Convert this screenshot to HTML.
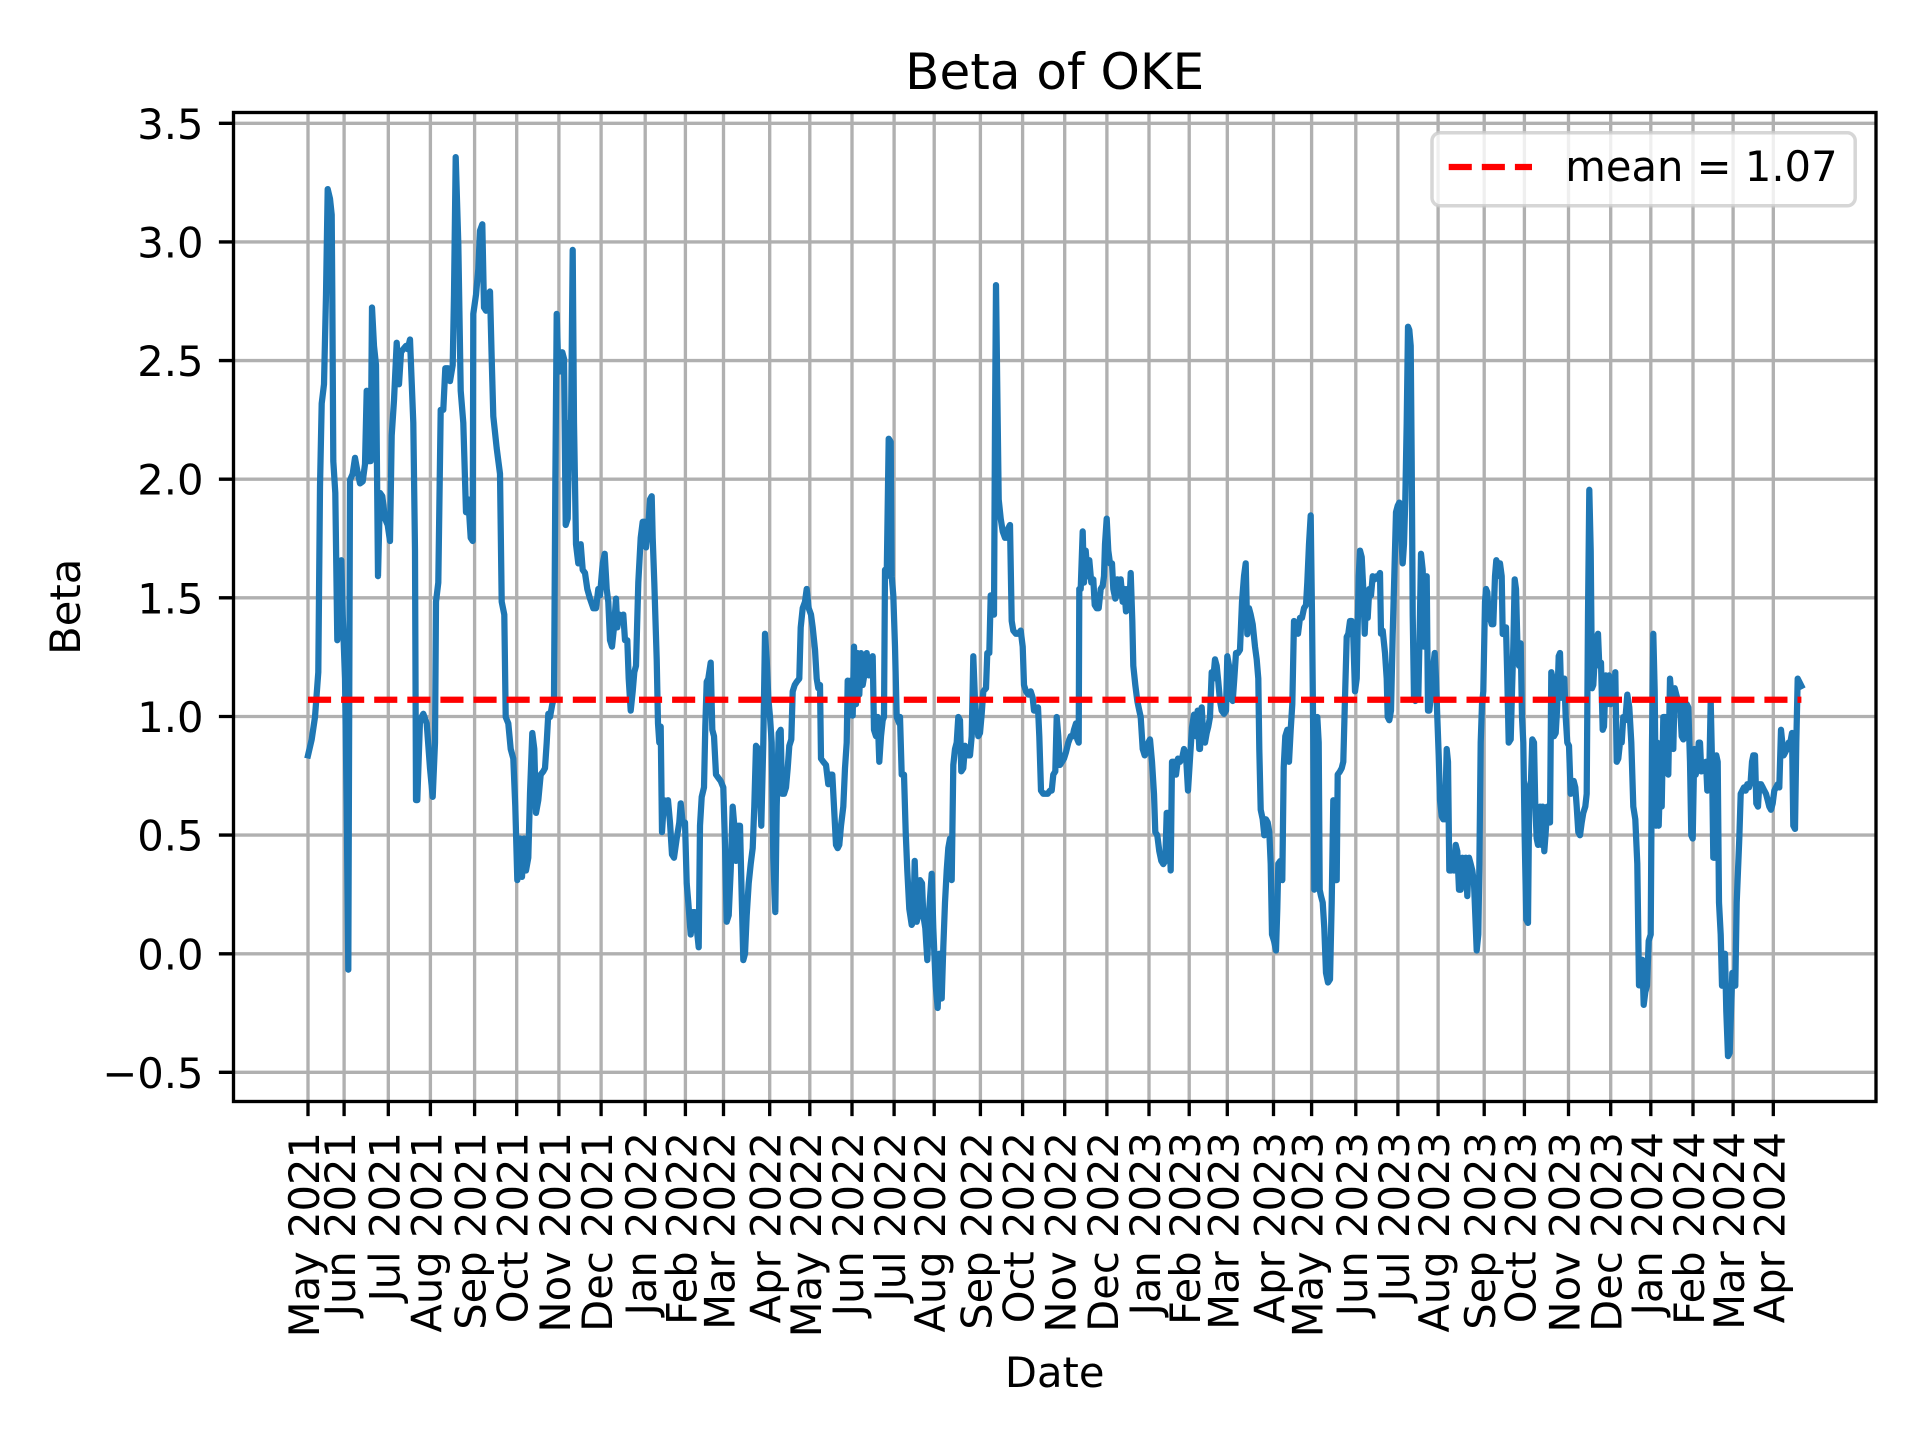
<!DOCTYPE html>
<html><head><meta charset="utf-8"><style>
html,body{margin:0;padding:0;background:#fff;}
svg{display:block;}
text{font-family:"DejaVu Sans","Liberation Sans",sans-serif;fill:#000;}
</style></head><body>
<svg width="1920" height="1440" viewBox="0 0 1920 1440" xmlns="http://www.w3.org/2000/svg">
<rect x="0" y="0" width="1920" height="1440" fill="#fff"/>
<g stroke="#b0b0b0" stroke-width="3.33" fill="none">
<path d="M308,112.5V1101.5M344.1,112.5V1101.5M388.3,112.5V1101.5M430.4,112.5V1101.5M474.6,112.5V1101.5M516.7,112.5V1101.5M558.9,112.5V1101.5M601.1,112.5V1101.5M645.2,112.5V1101.5M685.4,112.5V1101.5M723.5,112.5V1101.5M769.7,112.5V1101.5M809.8,112.5V1101.5M852,112.5V1101.5M894.1,112.5V1101.5M934.2,112.5V1101.5M980.4,112.5V1101.5M1022.6,112.5V1101.5M1064.7,112.5V1101.5M1106.9,112.5V1101.5M1149,112.5V1101.5M1189.2,112.5V1101.5M1227.3,112.5V1101.5M1273.5,112.5V1101.5M1311.6,112.5V1101.5M1355.8,112.5V1101.5M1397.9,112.5V1101.5M1438.1,112.5V1101.5M1484.2,112.5V1101.5M1524.4,112.5V1101.5M1568.5,112.5V1101.5M1610.7,112.5V1101.5M1650.8,112.5V1101.5M1693,112.5V1101.5M1733.1,112.5V1101.5M1773.3,112.5V1101.5"/>
<path d="M233.5,123.3H1876M233.5,241.9H1876M233.5,360.6H1876M233.5,479.2H1876M233.5,597.8H1876M233.5,716.5H1876M233.5,835.1H1876M233.5,953.8H1876M233.5,1072.3H1876"/>
</g>
<g stroke="#000" stroke-width="3.33" fill="none">
<path d="M308,1101.5v14.6M344.1,1101.5v14.6M388.3,1101.5v14.6M430.4,1101.5v14.6M474.6,1101.5v14.6M516.7,1101.5v14.6M558.9,1101.5v14.6M601.1,1101.5v14.6M645.2,1101.5v14.6M685.4,1101.5v14.6M723.5,1101.5v14.6M769.7,1101.5v14.6M809.8,1101.5v14.6M852,1101.5v14.6M894.1,1101.5v14.6M934.2,1101.5v14.6M980.4,1101.5v14.6M1022.6,1101.5v14.6M1064.7,1101.5v14.6M1106.9,1101.5v14.6M1149,1101.5v14.6M1189.2,1101.5v14.6M1227.3,1101.5v14.6M1273.5,1101.5v14.6M1311.6,1101.5v14.6M1355.8,1101.5v14.6M1397.9,1101.5v14.6M1438.1,1101.5v14.6M1484.2,1101.5v14.6M1524.4,1101.5v14.6M1568.5,1101.5v14.6M1610.7,1101.5v14.6M1650.8,1101.5v14.6M1693,1101.5v14.6M1733.1,1101.5v14.6M1773.3,1101.5v14.6"/>
<path d="M218.9,123.3h14.6M218.9,241.9h14.6M218.9,360.6h14.6M218.9,479.2h14.6M218.9,597.8h14.6M218.9,716.5h14.6M218.9,835.1h14.6M218.9,953.8h14.6M218.9,1072.3h14.6"/>
</g>
<polyline fill="none" stroke="#1f77b4" stroke-width="6.25" stroke-linejoin="round" stroke-linecap="square" points="
308,755.4 311.7,739.4 315,717 318.3,672.2 320,486.6 321.7,403.5 324,384.3 326,294.7 327.7,189.1 330,198.7 331.7,214.7 332.3,294.7 333.3,461.1 335.3,493 337.3,640.2 339.3,601.8 341.3,560.2 342.7,614.6 345,678.6 346.7,806.6 348.3,969.7 350,480.2 352.7,473.8 355,457.9 357.3,470.6 360,483.4 362.7,481.5 365,464.2 366.7,390.7 368.3,461.1 370.7,461.1 372,307.5 374,345.9 376,365.1 378,576.2 380,493 382.3,496.2 385,518.6 387.7,525 390,541 391.7,435.5 394,400.3 396.7,342.7 399,384.3 401,352.3 403.3,349.1 406,345.9 407.7,349.1 410,339.5 413.3,422.7 415,550.6 416,800.1 417.3,800.1 420,720.2 423.3,713.8 426.7,723.4 430,768.2 432.7,796.9 435,742.6 436,601.8 438.3,582.6 440.7,409.9 443.3,409.9 445.3,368.3 447.7,368.3 450,381.1 452.7,365.1 454,294.7 455.7,157.1 458.3,243.5 460.7,390.7 463.3,422.7 466,512.2 468.3,499.4 470.7,537.8 472.7,541 473.3,313.9 476,294.7 478.3,269.1 480,230.7 482.3,224.3 484,307.5 486,310.7 487.7,294.7 490,291.5 491.7,358.7 493.3,416.3 496.7,448.3 500,473.8 501.7,601.8 504.3,614.6 505.7,717 508.3,723.4 510.7,749 513.3,758.6 515.3,806.6 517.3,880.1 520,838.5 522,876.9 524,838.5 526,870.5 528.3,857.7 530,793.7 532.3,733 534.3,749 536,812.9 538.3,800.2 540.7,774.6 543.3,771.4 545,768.2 546.7,742.6 548.3,713.8 550,717 552.3,704.2 554,697.8 555.3,486.6 556.7,313.9 558.3,368.3 560,371.5 562.3,352.3 564,358.7 565.7,525 567.7,518.6 569.3,422.7 571,429.1 572.7,249.9 574,422.7 576,544.2 578.3,563.4 580.7,544.2 582.7,569.8 585,573 587.3,589 590,598.6 593.3,608.2 596,608.2 598.3,589
600,595.4 602.7,563.4 604.7,553.8 606.7,589 608.3,601.8 610,640.2 612,646.6 614,627.4 616,598.6 617.3,627.4 619.3,614.6 621.7,617.8 623.3,614.6 625,640.2 627.3,640.2 628.7,678.6 630.7,710.6 632.7,691.4 634.3,672.2 636,665.8 638.3,582.6 640.7,537.8 642.7,521.8 644.7,521.8 646,547.4 648.3,525 650,499.4 651.7,496.2 652.7,537.8 654.3,582.6 656.7,659.4 658,723.4 659.3,742.6 660.7,726.6 662,832.1 664,800.2 666,806.6 668,800.2 670,822.5 672,854.5 674,857.7 676.7,838.5 679.3,822.5 680.7,803.4 682.7,822.5 685,822.5 686.7,883.3 688.3,902.5 690.7,934.5 692.7,912.1 695,912.1 696.7,928.1 698.7,947.3 700,825.7 701.7,797 704,787.4 705.3,726.6 706.7,681.8 708.3,678.6 710.7,662.6 712.3,729.8 714,736.2 716,774.6 718.3,777.8 720.7,781 723.3,787.4 725,844.9 726.7,921.7 728.7,915.3 730.7,870.5 732.7,806.6 734.3,825.7 736,860.9 738,825.7 740,825.7 741.7,896.1 743.3,960.1 745,953.7 746.7,915.3 748.7,883.3 750.7,864.1 752.7,848.1 754.3,806.6 756,745.8 758.3,749 760,793.8 761.3,825.7 763.3,742.6 765,633.8 766.7,659.4 768.3,697.8 770,717 771.7,742.6 773.3,857.7 775.3,912.1 776.7,806.6 778.7,733 780.7,729.8 782,793.8 784,793.8 786,787.4 787.7,768.2 789.3,745.8 791.3,739.4 792.7,691.4 794.7,685 796.7,681.8 799.3,678.6 800.7,627.4 802.7,608.2 805,601.8 806.7,589 808.7,608.2 811,614.6 812.7,627.4 815,649.6 816.7,678.6 818.3,688.2 820,685 821,758.6 823.3,761.8 826,765 828.3,784.2 830.7,774.6 832.3,774.6 834,806.6 836,844.9 837.7,848.1 839.3,844.9 841,825.7 843.3,806.6 845,768.2 846.7,742.6 847.7,680.6 849.3,715.6 850.7,680.6 852.7,715.6 854,646.6 856,704.2 857.7,653.1 859.3,694.6 861,653.1 862.7,685 864.3,675.4 866.7,653.1 868.7,675.4 870.7,659.4 872.7,656.2 874,729.8 876,736.2 877.7,717 879.3,761.8 881,736.2 882.7,720.2 884,717 885,569.8 886.7,576.2 888.7,438.7 890.7,441.9 891.7,576.2 893.3,595.4 895,646.6 896.7,717 899.3,723.4
900,717 901.7,774.6 904,774.6 905.7,832.1 907.3,870.5 909.3,908.9 911.7,924.9 913.3,921.7 914.7,860.9 916.7,921.7 918.3,915.3 920,880.1 922,883.3 923.3,915.3 925.3,928.1 927.3,960.1 929.3,908.9 931.7,873.7 933.3,928.1 935.7,985.7 937.7,1008 939.3,953.7 941.7,998.5 943.3,947.3 945,902.5 946.7,870.5 948.3,848.1 950,838.5 951.7,880.1 953.3,765 955,749 956.7,742.6 958.3,717 960,720.2 961.3,771.4 963.3,768.2 965,745.8 966.7,749 968.3,755.4 970,755.4 971.7,736.2 973.3,656.2 975,701 976.7,723.4 978.3,736.2 980,733 981.7,713.8 983.3,691.4 986,688.2 987.3,653 989.3,653 990.7,595.4 992.7,595.4 994,614.6 995,422.7 996,285.1 997.3,390.7 998.7,499.4 1000.7,518.6 1002.7,531.4 1005,537.8 1006.7,537.8 1008.3,528.2 1010,525 1011.7,621 1013.3,630.6 1016,633.8 1018.3,633.8 1020.7,630.6 1022.7,646.6 1024,685 1026,691.4 1028.3,694.6 1030.7,691.4 1032.7,697.8 1034,710.6 1036,710.6 1038,707.4 1039.3,736.2 1041,790.6 1043.3,793.8 1045.7,793.8 1047.7,793.8 1050,790.6 1051.7,790.6 1053.3,774.6 1055.3,771.4 1056.7,717 1058.3,736.2 1060,765 1062,761.8 1064,758.6 1066,752.2 1068.3,742.6 1070.7,736.2 1072.7,736.2 1074,729.8 1076,723.4 1077.3,739.4 1078.7,742.6 1079.3,589 1080.7,589 1082.7,531.4 1084,582.6 1085.7,550.6 1087.7,576.2 1089.3,560.2 1091.3,582.6 1093.3,579.4 1094.7,605 1096.7,608.2 1098.7,608.2 1100.7,589 1102.7,585.8 1104,576.2 1105,544.2 1106.7,518.6 1108.3,550.6 1110,563.4 1112,563.4 1113.3,589 1115.3,598.6 1117.3,579.4 1119,595.4 1120.7,579.4 1122.7,601.8 1124.3,589 1126,611.4 1127.3,589 1129.3,608.2 1130.7,573 1132.3,621 1133.3,665.8 1135.3,685 1137.3,701 1139.3,710.6 1140.7,717 1142.7,749 1144.7,755.4 1146.7,752.2 1148.3,742.6 1150,739.4 1152,761.8 1154,793.8 1155.3,832.1 1157.3,835.3 1159.3,851.3 1161.3,860.9 1163.3,864.1 1165.3,860.9 1166.7,812.9 1168.7,812.9 1170.7,870.5 1172,761.8 1174,761.8 1176,774.6 1178,758.6 1180,761.8 1182,758.6 1184,749 1186,755.4 1188,790.6 1190,758.6 1192,727.4 1194,714.6 1196,736.2 1197.7,710.6 1199.3,749
1200,749 1201.7,707.4 1203.3,736.2 1205,742.6 1206.7,733 1208.3,726.6 1210,717 1211.7,672.2 1213.3,678.6 1215,659.4 1216.7,665.8 1218.3,681.8 1220,701 1221.7,710.6 1224,713.8 1226,710.6 1227.3,656.2 1229,665.8 1230.7,697.8 1232.7,701 1234.3,678.6 1236,653 1238,653 1240,649.8 1242,601.8 1244,576.2 1245.7,563.4 1247.3,634.2 1249,608.2 1250.7,614.6 1252.7,624.2 1255,646.6 1256.7,659.4 1258.3,678.6 1259.3,749 1260.7,809.7 1262.7,819.3 1264.3,835.3 1266,819.3 1267.7,822.5 1269.3,832.1 1270.7,863.8 1272,934.5 1274,940.9 1276,950.5 1277.3,908.9 1278.3,863.8 1280.3,860.9 1282.3,880.1 1283.7,767.4 1285.3,736.2 1287.3,729.8 1289,761.8 1290.7,729.8 1292.3,704.2 1294,621 1296,624.2 1298,633.8 1300,617.8 1302,617.8 1304,608.2 1306,605 1307.3,582.6 1309,544.2 1310.7,515.4 1312,614.6 1313.3,742.6 1314.3,889.7 1316,806.6 1317.3,717 1318.7,742.6 1319.7,889.7 1321,896.1 1322.7,902.5 1324.3,928.1 1326,972.9 1328,982.5 1330,979.3 1331.7,902.5 1333.3,800.2 1335,880.1 1336.7,880.1 1337.7,774.6 1340,771.4 1341.7,768.2 1343.3,761.8 1345,697.8 1346.7,636.9 1348.3,633.8 1350,621 1351.7,621 1353.3,636.9 1355,691.4 1356.7,678.6 1358.7,576.2 1360,550.6 1361.7,557 1363.3,589 1364.7,633.8 1366,601.8 1367.7,617.8 1369.3,589 1371,595.4 1372.7,576.2 1374.7,579.4 1376.7,576.2 1378.3,576.2 1380,573 1381,633.8 1382.7,630.6 1385,653 1386.7,678.6 1387.7,717 1389.3,720.2 1391,710.6 1392.7,633.8 1394.3,576.2 1396,512.2 1397.7,505.8 1399.3,502.6 1401,531.4 1402.7,563.4 1404,544.2 1405.3,499.4 1406.7,422.7 1408,326.7 1409.3,329.9 1410.7,345.9 1411.7,461.1 1412.7,614.6 1414,697.8 1415.3,701 1416.7,697.8 1418.3,697.8 1420,614.6 1421,553.8 1422.7,569.8 1424,646.6 1425.3,646.6 1426.7,576.2 1428,710.6 1429.3,710.6 1430.7,697.8 1432,685 1433.3,665.8 1434.7,653 1436,678.6 1437.3,717 1438.7,755.4 1440,800.2 1441.7,816.2 1443.3,819.3 1445,819.3 1446.7,749 1448,761.8 1449.3,870.5 1451,870.5 1452.3,857.7 1454,870.5 1455.7,844.9 1457.3,851.3 1459,889.7 1460.7,889.7 1462.3,857.7 1464,867.3 1465.7,857.7 1467.3,896.1 1469,857.7 1470.7,864.1 1472.3,870.5 1474,883.3 1475.3,915.3 1476.7,950.5 1478.3,934.5 1479.3,870.5 1480.7,742.6 1482,704.2 1483.3,691.4 1485,601.8 1486,589 1487.3,592.2 1488.7,614.6 1490,617.8 1491.7,624.2 1493.3,624.2 1495,576.2 1496.3,560.2 1497.7,563.4 1499.3,576.2
1500,563.4 1501.7,576.2 1502.7,634 1504.7,634 1506,627.4 1507.3,678.6 1508.7,742.6 1510.7,739.4 1512,691.4 1513.3,646.6 1514.7,579.4 1516,589 1517.3,640.2 1519,665.8 1520.7,643.4 1522,717 1523.3,742.6 1524.7,838.5 1526.3,919.7 1528,922.9 1529.3,787.4 1531,781 1532.3,739.4 1534,742.6 1535.3,806.6 1536.7,838.5 1538,844.9 1540,806.6 1541.3,844.9 1542.7,806.6 1544.3,851.3 1545.7,832.1 1547.3,806.6 1548.7,819.3 1550,822.5 1551.3,672.2 1552.7,678.6 1554,736.2 1555.7,733 1557,710.6 1558.7,656.2 1560,653 1561.3,697.8 1562.7,681.8 1564.3,678.6 1565.7,717 1567.3,742.6 1569,745.8 1570.7,793.8 1572,781 1573.7,781 1575.3,787.4 1576.7,806.6 1578.3,832.1 1580,835.3 1581.7,822.5 1583.3,812.9 1585.3,806.6 1586.7,793.8 1588,614.6 1589.3,489.8 1590.7,550.6 1592,688.2 1593.3,685 1594.7,659.4 1596.7,636.9 1598,633.8 1599.3,665.8 1601,662.6 1602.7,729.8 1604,726.6 1605.7,675.4 1607.3,704.2 1609,675.4 1610.7,704.2 1612.3,681.8 1614,701 1615.3,672.2 1616.7,761.8 1618.3,758.6 1620,742.6 1621.7,742.6 1623.3,717 1625.3,720.2 1627.3,694.6 1629.3,707.4 1631.3,742.6 1633.3,806.6 1635.3,819.3 1637.3,863.8 1639,985.4 1640.7,963 1642.3,959.8 1643.7,1004.9 1645.3,992.1 1647,985.7 1648.7,940.9 1650.7,934.5 1652,742.6 1653.3,633.8 1654.7,691.4 1656,825.7 1657.3,742.6 1658.7,825.7 1660.3,768.2 1661.7,806.6 1663.3,717 1665.3,717 1666.7,755.4 1668.3,774.6 1670,678.6 1671.7,701 1673.3,749 1674.7,688.2 1676.3,694.6 1678,701 1680,704.2 1681.7,736.2 1683.3,739.4 1685,704.2 1686.7,704.2 1688.3,707.4 1690,761.8 1691.3,835.3 1692.7,838.5 1694.3,749 1695.7,774.6 1697.3,768.2 1698.7,742.6 1700,742.6 1701.3,771.4 1703,765 1704.7,765 1706,761.8 1707.3,790.6 1709,787.4 1710.7,701 1712,761.8 1713.3,857.7 1715,857.7 1716.3,755.4 1717.7,761.8 1719,902.5 1720.7,934.5 1722,985.7 1723.7,953.7 1725,953.7 1726.3,1011.3 1728,1056.1 1729.7,1052.9 1731,1011.3 1732.3,972.9 1734,972.9 1735.3,985.7 1736.7,902.5 1738,870.5 1739.3,838.5 1740.7,793.8 1742.3,790.6 1744,787.4 1745.7,790.6 1747.3,784.2 1749,787.4 1750.7,781 1752,761.8 1753.3,755.4 1755,755.4 1756.3,803.4 1758,806.6 1759.3,784.2 1761,784.2 1762.7,787.4 1764.3,790.6 1766,793.8 1767.7,800.2 1769.3,806.6 1771,809.7 1772.7,803.4 1774.3,790.6 1776,787.4 1777.7,784.2 1779.3,787.4 1781,729.8 1782.3,742.6 1783.7,755.4 1785.3,752.2 1787,749 1788.7,742.6 1790.3,742.6 1792,733 1793.3,825.7 1795,828.9 1796.3,742.6 1797.7,678.6 1799.3,681.8 1801.4,686"/>
<line x1="308" y1="699.8" x2="1801.4" y2="699.8" stroke="#ff0000" stroke-width="6.25" stroke-dasharray="23.1 10"/>
<rect x="233.5" y="112.5" width="1642.5" height="989" fill="none" stroke="#000" stroke-width="3.33"/>
<g font-size="41.67" text-anchor="end">
<text x="203.5" y="138.8">3.5</text>
<text x="203.5" y="257.4">3.0</text>
<text x="203.5" y="376.1">2.5</text>
<text x="203.5" y="494.7">2.0</text>
<text x="203.5" y="613.3">1.5</text>
<text x="203.5" y="732">1.0</text>
<text x="203.5" y="850.6">0.5</text>
<text x="203.5" y="969.3">0.0</text>
<text x="203.5" y="1087.8">−0.5</text>
</g>
<g font-size="41.67" text-anchor="end">
<text transform="translate(319,1132) rotate(-90)">May 2021</text>
<text transform="translate(355.1,1132) rotate(-90)">Jun 2021</text>
<text transform="translate(399.3,1132) rotate(-90)">Jul 2021</text>
<text transform="translate(441.4,1132) rotate(-90)">Aug 2021</text>
<text transform="translate(485.6,1132) rotate(-90)">Sep 2021</text>
<text transform="translate(527.7,1132) rotate(-90)">Oct 2021</text>
<text transform="translate(569.9,1132) rotate(-90)">Nov 2021</text>
<text transform="translate(612.1,1132) rotate(-90)">Dec 2021</text>
<text transform="translate(656.2,1132) rotate(-90)">Jan 2022</text>
<text transform="translate(696.4,1132) rotate(-90)">Feb 2022</text>
<text transform="translate(734.5,1132) rotate(-90)">Mar 2022</text>
<text transform="translate(780.7,1132) rotate(-90)">Apr 2022</text>
<text transform="translate(820.8,1132) rotate(-90)">May 2022</text>
<text transform="translate(863,1132) rotate(-90)">Jun 2022</text>
<text transform="translate(905.1,1132) rotate(-90)">Jul 2022</text>
<text transform="translate(945.2,1132) rotate(-90)">Aug 2022</text>
<text transform="translate(991.4,1132) rotate(-90)">Sep 2022</text>
<text transform="translate(1033.6,1132) rotate(-90)">Oct 2022</text>
<text transform="translate(1075.7,1132) rotate(-90)">Nov 2022</text>
<text transform="translate(1117.9,1132) rotate(-90)">Dec 2022</text>
<text transform="translate(1160,1132) rotate(-90)">Jan 2023</text>
<text transform="translate(1200.2,1132) rotate(-90)">Feb 2023</text>
<text transform="translate(1238.3,1132) rotate(-90)">Mar 2023</text>
<text transform="translate(1284.5,1132) rotate(-90)">Apr 2023</text>
<text transform="translate(1322.6,1132) rotate(-90)">May 2023</text>
<text transform="translate(1366.8,1132) rotate(-90)">Jun 2023</text>
<text transform="translate(1408.9,1132) rotate(-90)">Jul 2023</text>
<text transform="translate(1449.1,1132) rotate(-90)">Aug 2023</text>
<text transform="translate(1495.2,1132) rotate(-90)">Sep 2023</text>
<text transform="translate(1535.4,1132) rotate(-90)">Oct 2023</text>
<text transform="translate(1579.5,1132) rotate(-90)">Nov 2023</text>
<text transform="translate(1621.7,1132) rotate(-90)">Dec 2023</text>
<text transform="translate(1661.8,1132) rotate(-90)">Jan 2024</text>
<text transform="translate(1704,1132) rotate(-90)">Feb 2024</text>
<text transform="translate(1744.1,1132) rotate(-90)">Mar 2024</text>
<text transform="translate(1784.3,1132) rotate(-90)">Apr 2024</text>
</g>
<text x="1054.7" y="89" font-size="50" text-anchor="middle">Beta of OKE</text>
<text x="1054.7" y="1387" font-size="41.67" text-anchor="middle">Date</text>
<text transform="translate(80,606.8) rotate(-90)" font-size="41.67" text-anchor="middle">Beta</text>
<rect x="1432" y="132.8" width="423.2" height="73" rx="8" ry="8" fill="#fff" fill-opacity="0.8" stroke="#cccccc" stroke-opacity="0.8" stroke-width="3.5"/>
<line x1="1448.7" y1="167" x2="1532" y2="167" stroke="#ff0000" stroke-width="6.25" stroke-dasharray="23.1 10"/>
<text x="1565.3" y="181" font-size="41.67">mean = 1.07</text>
</svg>
</body></html>
